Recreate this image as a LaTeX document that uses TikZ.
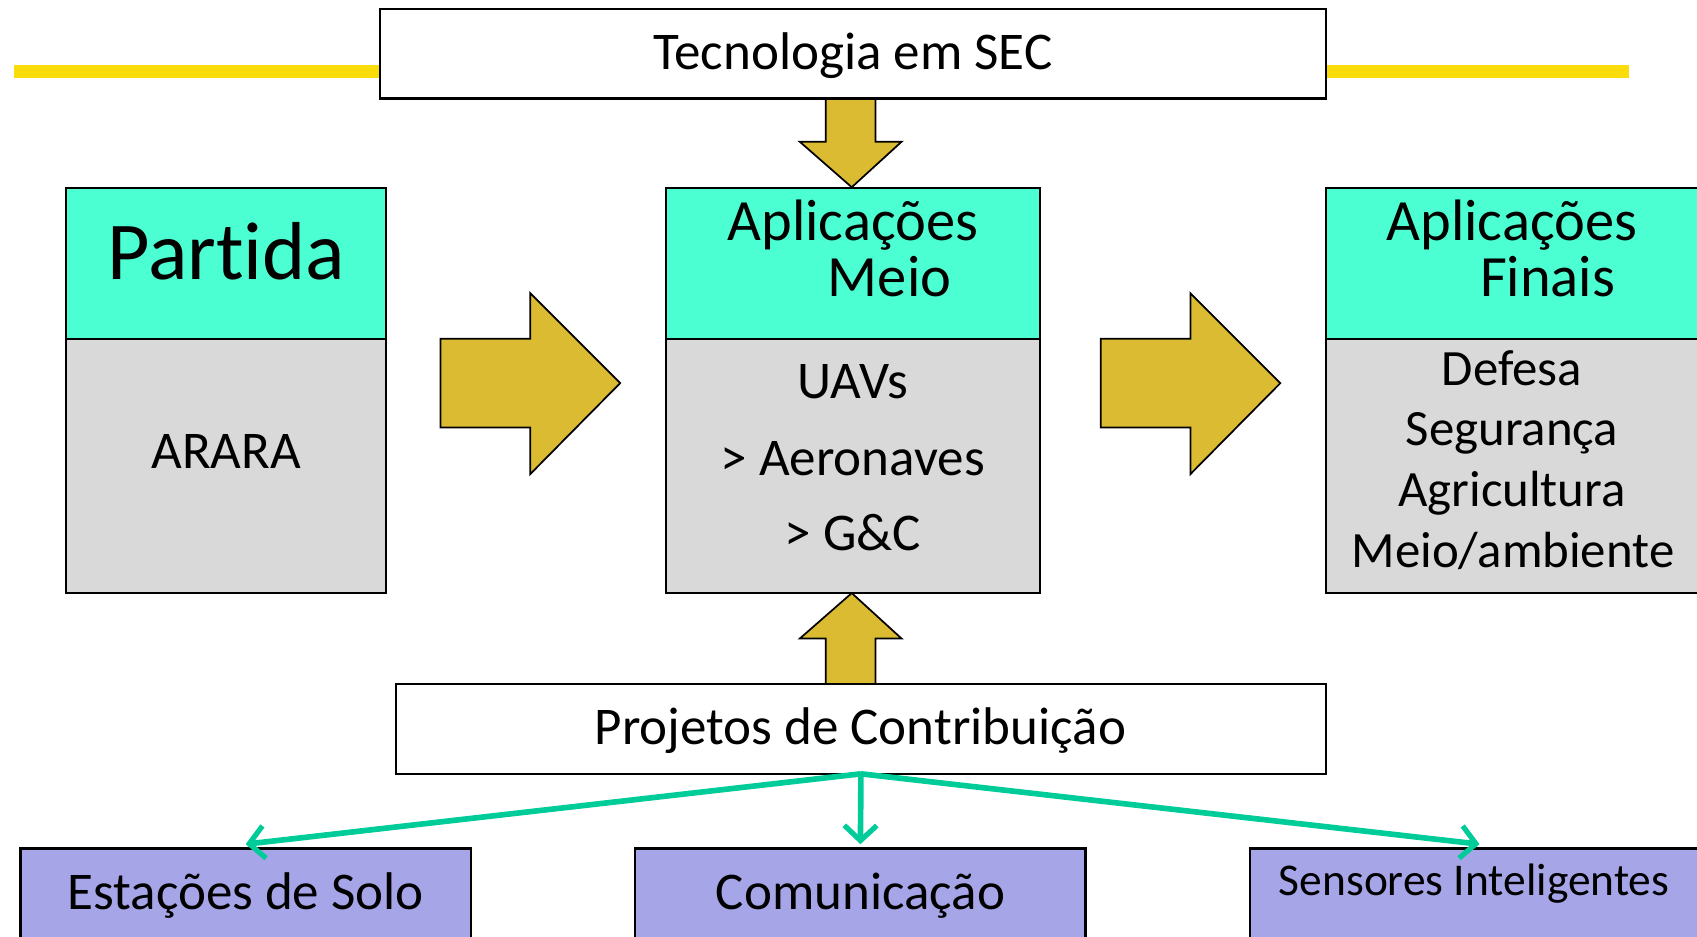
\documentclass[tikz,border=0pt]{standalone}
\usepackage{fontspec}
\setmainfont{Carlito}[RawFeature={-liga;-clig;-dlig;-calt;-rlig}]
\usetikzlibrary{arrows.meta,calc}
\definecolor{barY}{RGB}{250,220,10}
\definecolor{goldA}{RGB}{219,187,50}
\definecolor{hdrC}{RGB}{75,255,210}
\definecolor{bodyC}{RGB}{217,217,217}
\definecolor{lavC}{RGB}{165,165,232}
\definecolor{grnC}{RGB}{0,204,153}
\begin{document}
\begin{tikzpicture}[x=0.5pt,y=-0.5pt,
  box/.style={draw=black,line width=1pt,inner sep=0pt,outer sep=0pt,anchor=north west},
  wbox/.style={box,fill=white,minimum height=41.5pt},
  hdr/.style={box,fill=hdrC,minimum height=69.5pt},
  body/.style={box,fill=bodyC,minimum height=117.5pt},
  bot/.style={box,fill=lavC,minimum width=208pt,minimum height=50pt},
  blk/.style={draw=black,line width=0.8pt,fill=goldA,line join=miter},
  txt/.style={inner sep=0pt,anchor=base,font=\fontsize{24.5}{28}\selectfont},
  lst/.style={inner sep=0pt,anchor=base,font=\fontsize{23.5}{28}\selectfont},
  big/.style={inner sep=0pt,anchor=base,font=\fontsize{27}{30}\selectfont},
  link/.style={draw=grnC,line width=2.6pt,-{Straight Barb[length=7pt,width=15pt,line width=2.4pt]}}
]
\useasboundingbox (0,0) rectangle (1568,865);
% yellow bar
\fill[barY] (13,60) rectangle (1505,72);
% block arrows
\draw[blk] (763,91) -- (763,131) -- (739,131) -- (787,173) -- (833,131) -- (809,131) -- (809,91);
\draw[blk] (763,632) -- (763,590) -- (739,590) -- (787,548) -- (833,590) -- (809,590) -- (809,632);
\draw[blk] (407,313) -- (490,313) -- (490,271) -- (573,354) -- (490,438) -- (490,395) -- (407,395) -- cycle;
\draw[blk] (1017,313) -- (1100,313) -- (1100,271) -- (1183,354) -- (1100,438) -- (1100,395) -- (1017,395) -- cycle;
% boxes
\node[wbox,minimum width=437pt] (tec) at (351,8) {};
\node[wbox,minimum width=429.5pt] (proj) at (366,632) {};
\node[hdr,minimum width=148pt] (partH) at (61,174) {};
\node[body,minimum width=148pt] (partB) at (61,313) {};
\node[hdr,minimum width=173pt] (midH) at (615,174) {};
\node[body,minimum width=173pt] (midB) at (615,313) {};
\node[hdr,minimum width=185pt] (finH) at (1225,174) {};
\node[body,minimum width=185pt] (finB) at (1225,313) {};
\node[bot] (est) at (19,784) {};
\node[bot] (com) at (587,784) {};
\node[bot,minimum width=215pt] (sen) at (1155,784) {};
% green connectors
\draw[link] (proj.south) -- ($(est.north)+(0,-4)$);
\draw[link] (proj.south) -- ($(com.north)+(0,-4)$);
\draw[link] (proj.south) -- ($(sen.north)+(-3,-4)$);
% texts
\node[txt] (tTec) at (788,64) {Tecnologia em SEC};
\node[txt] (tProj) at (795,688) {Projetos de Contribuição};
\node[inner sep=0pt,anchor=base,font=\fontsize{38}{40}\selectfont] (tPart) at (209,258) {Part\kern0pt ida};
\node[txt] (tArara) at (209,433) {ARARA};
\node[big] (tAp1) at (788,222) {Aplicações};
\node[big] (tMeio) at (822,274) {Meio};
\node[big] (tAp2) at (1397,222) {Aplicações};
\node[big] (tFin) at (1430,274) {Finais};
\node[txt] (tUav) at (788,368) {UAVs};
\node[txt] (tAer) at (788,439) {> Aeronaves};
\node[txt] (tGC) at (788,509) {> G\&C};
\node[lst] (tDef) at (1397,356) {Defesa};
\node[lst] (tSeg) at (1397,412) {Segurança};
\node[lst] (tAgr) at (1397,468) {Agricultura};
\node[lst] (tAmb) at (1398,524) {Meio/ambiente};
\node[txt] (tEst) at (227,840) {Estações de Solo};
\node[txt] (tCom) at (795,840) {Comunicação};
\node[inner sep=0pt,anchor=base,font=\fontsize{21}{24}\selectfont] (tSen) at (1362,827) {Sensores Inteligentes};
\end{tikzpicture}
\end{document}
